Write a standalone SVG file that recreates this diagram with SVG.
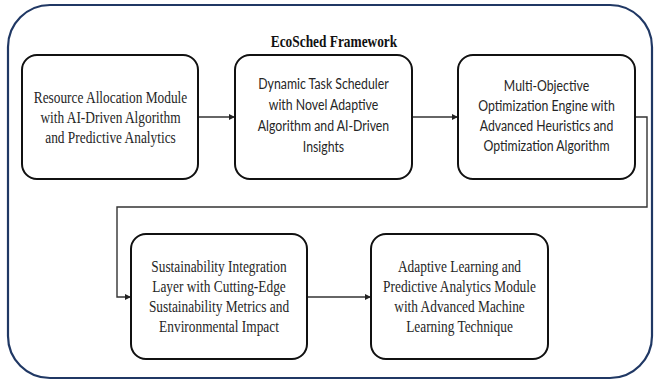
<svg xmlns="http://www.w3.org/2000/svg" width="656" height="382" viewBox="0 0 656 382">
  <defs>
    <marker id="arrow" viewBox="0 0 6 6" refX="6" refY="3" markerWidth="6" markerHeight="6" markerUnits="userSpaceOnUse" orient="auto">
      <path d="M0,0 L6,3 L0,6 z" fill="#222"/>
    </marker>
    <style>
      .frame { fill: #ffffff; stroke: #203864; stroke-width: 2.2; }
      .box { fill: #ffffff; stroke: #111; stroke-width: 2; }
      .link { fill: none; stroke: #333; stroke-width: 1.4; }
      .serif { font-family: "Liberation Serif", "Times New Roman", serif; font-size: 16.5px; fill: #262626; text-anchor: middle; }
      .sans { font-family: Lato, "Liberation Sans", sans-serif; font-size: 15px; fill: #262626; text-anchor: middle; }
      .title { font-family: "Liberation Serif", "Times New Roman", serif; font-size: 16.5px; font-weight: bold; fill: #111; text-anchor: middle; }
    </style>
  </defs>

  <!-- outer framework border -->
  <rect class="frame" x="8" y="5" width="644" height="373" rx="42" ry="42"/>
  <g transform="translate(334 0) scale(0.81 1)">
    <text class="title" x="0" y="47">EcoSched Framework</text>
  </g>

  <g id="connectors">
    <path class="link" d="M198,117 H235" marker-end="url(#arrow)"/>
    <path class="link" d="M412,117 H458" marker-end="url(#arrow)"/>
    <path class="link" d="M635,117 H647 V207 H117 V297 H131" marker-end="url(#arrow)"/>
    <path class="link" d="M307,297 H371" marker-end="url(#arrow)"/>
  </g>

  <g id="resource-allocation">
    <rect class="box" x="22" y="55" width="176" height="124" rx="15"/>
    <g transform="translate(110.5 0) scale(0.81 1)">
      <text class="serif" x="0" y="103">Resource Allocation Module</text>
      <text class="serif" x="0" y="123">with AI-Driven Algorithm</text>
      <text class="serif" x="0" y="143">and Predictive Analytics</text>
    </g>
  </g>

  <g id="task-scheduler">
    <rect class="box" x="235" y="55" width="177" height="124" rx="15"/>
    <g transform="translate(323.5 0) scale(0.82 1)">
      <text class="sans" x="0" y="89">Dynamic Task Scheduler</text>
      <text class="sans" x="0" y="110">with Novel Adaptive</text>
      <text class="sans" x="0" y="131">Algorithm and AI-Driven</text>
      <text class="sans" x="0" y="152">Insights</text>
    </g>
  </g>

  <g id="optimization-engine">
    <rect class="box" x="458" y="55" width="177" height="124" rx="15"/>
    <g transform="translate(546.5 0) scale(0.82 1)">
      <text class="sans" x="0" y="91">Multi-Objective</text>
      <text class="sans" x="0" y="111">Optimization Engine with</text>
      <text class="sans" x="0" y="131">Advanced Heuristics and</text>
      <text class="sans" x="0" y="151">Optimization Algorithm</text>
    </g>
  </g>

  <g id="sustainability-layer">
    <rect class="box" x="131" y="234" width="176" height="125" rx="15"/>
    <g transform="translate(219 0) scale(0.81 1)">
      <text class="serif" x="0" y="272">Sustainability Integration</text>
      <text class="serif" x="0" y="292">Layer with Cutting-Edge</text>
      <text class="serif" x="0" y="312">Sustainability Metrics and</text>
      <text class="serif" x="0" y="332">Environmental Impact</text>
    </g>
  </g>

  <g id="adaptive-learning">
    <rect class="box" x="371" y="234" width="177" height="125" rx="15"/>
    <g transform="translate(459.5 0) scale(0.81 1)">
      <text class="serif" x="0" y="272">Adaptive Learning and</text>
      <text class="serif" x="0" y="292">Predictive Analytics Module</text>
      <text class="serif" x="0" y="312">with Advanced Machine</text>
      <text class="serif" x="0" y="332">Learning Technique</text>
    </g>
  </g>
</svg>
